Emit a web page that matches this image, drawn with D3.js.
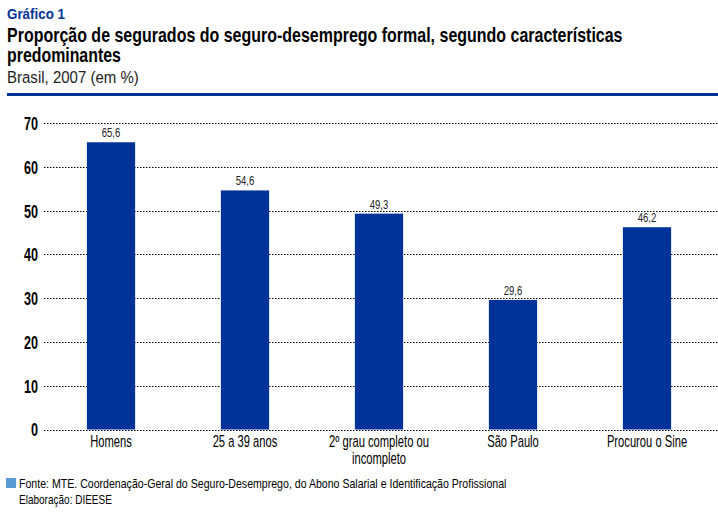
<!DOCTYPE html>
<html><head><meta charset="utf-8">
<script src="https://cdn.jsdelivr.net/npm/d3@7"></script>
<style>
body{margin:0;background:#fff;}
svg text{font-family:"Liberation Sans",Arial,sans-serif;}
</style></head>
<body>
<svg id="c" width="718" height="528"></svg>
<script>
const categories = ["Homens", "25 a 39 anos", "2º grau completo ou|incompleto", "São Paulo", "Procurou o Sine"];
const values = [65.6, 54.6, 49.3, 29.6, 46.2];
const valueLabels = ["65,6", "54,6", "49,3", "29,6", "46,2"];
const yTicks = [0, 10, 20, 30, 40, 50, 60, 70];

const svg = d3.select("#c");
const blue = "#003399";

// horizontally compress a text element by a factor, keeping its anchor point
function compress(el, f) {
  const x0 = +el.getAttribute("x") || 0;
  const y0 = +el.getAttribute("y") || 0;
  el.setAttribute("x", 0);
  el.setAttribute("y", 0);
  el.querySelectorAll("tspan").forEach(ts => ts.setAttribute("x", 0));
  const prev = el.getAttribute("transform") || "";
  el.setAttribute("transform", `${prev} translate(${x0},${y0}) scale(${f},1)`);
}
function squeeze(sel, f) { sel.each(function() { compress(this, f); }); }
function fitTo(sel, w) {
  sel.each(function() { compress(this, w / this.getComputedTextLength()); });
}

fitTo(svg.append("text").attr("x", 7).attr("y", 19).attr("fill", blue)
  .attr("font-weight", "bold").attr("font-size", 15).text("Gráfico 1"), 58);
fitTo(svg.append("text").attr("x", 7).attr("y", 42).attr("fill", "#000")
  .attr("font-weight", "bold").attr("font-size", 20).text("Proporção de segurados do seguro-desemprego formal, segundo características"), 616);
fitTo(svg.append("text").attr("x", 7).attr("y", 62).attr("fill", "#000")
  .attr("font-weight", "bold").attr("font-size", 20).text("predominantes"), 114);
fitTo(svg.append("text").attr("x", 7).attr("y", 83).attr("fill", "#222")
  .attr("font-size", 17).text("Brasil, 2007 (em %)"), 132);
svg.append("rect").attr("x", 7).attr("y", 93).attr("width", 711).attr("height", 3).attr("fill", blue);

const x = d3.scaleBand().domain(categories).range([44, 714]).paddingInner(0.64).paddingOuter(0.32);
const y = d3.scaleLinear().domain([0, 70]).range([429.5, 123]);

// grid
svg.append("g").selectAll("line").data(yTicks).join("line")
  .attr("x1", 44).attr("x2", 718)
  .attr("y1", d => Math.round(y(d)) + 0.5).attr("y2", d => Math.round(y(d)) + 0.5)
  .attr("stroke", "#000").attr("stroke-width", 1).attr("stroke-dasharray", "1.5,1.5");

// y axis labels
const yAxis = d3.axisLeft(y).tickValues(yTicks).tickSize(0).tickPadding(0);
const ga = svg.append("g").attr("transform", "translate(38,0)").call(yAxis);
ga.select(".domain").remove();
ga.selectAll("text").attr("font-size", 18).attr("font-weight", "bold").attr("fill", "#000")
  .attr("font-family", "'Liberation Sans',Arial,sans-serif").attr("dy", "0.36em");
squeeze(ga.selectAll("text"), 0.7);

// bars
svg.append("g").selectAll("rect").data(values).join("rect")
  .attr("x", (d, i) => x(categories[i]))
  .attr("width", x.bandwidth())
  .attr("y", d => y(d))
  .attr("height", d => y(0) - y(d))
  .attr("fill", blue);

// value labels
const vl = svg.append("g").selectAll("text").data(values).join("text")
  .attr("x", (d, i) => x(categories[i]) + x.bandwidth() / 2)
  .attr("y", d => y(d) - 5)
  .attr("text-anchor", "middle").attr("font-size", 13).attr("fill", "#222")
  .text((d, i) => valueLabels[i]);
squeeze(vl, 0.73);

// category labels
const cl = svg.append("g").selectAll("text").data(categories).join("text")
  .attr("x", d => x(d) + x.bandwidth() / 2)
  .attr("y", 447)
  .attr("text-anchor", "middle").attr("font-size", 16).attr("fill", "#000");
cl.each(function(d) {
  const parts = d.split("|");
  const t = d3.select(this);
  parts.forEach((p, k) => {
    t.append("tspan").attr("x", 0).attr("dy", k === 0 ? 0 : 17).text(p);
  });
});
squeeze(cl, 0.7);

// footer
svg.append("rect").attr("x", 6).attr("y", 478).attr("width", 10).attr("height", 10).attr("fill", "#5b9bd5");
fitTo(svg.append("text").attr("x", 19).attr("y", 488).attr("font-size", 13).attr("fill", "#000")
  .text("Fonte: MTE. Coordenação-Geral do Seguro-Desemprego, do Abono Salarial e Identificação Profissional"), 488);
fitTo(svg.append("text").attr("x", 19).attr("y", 504).attr("font-size", 13).attr("fill", "#000")
  .text("Elaboração: DIEESE"), 93);
</script>
</body></html>
